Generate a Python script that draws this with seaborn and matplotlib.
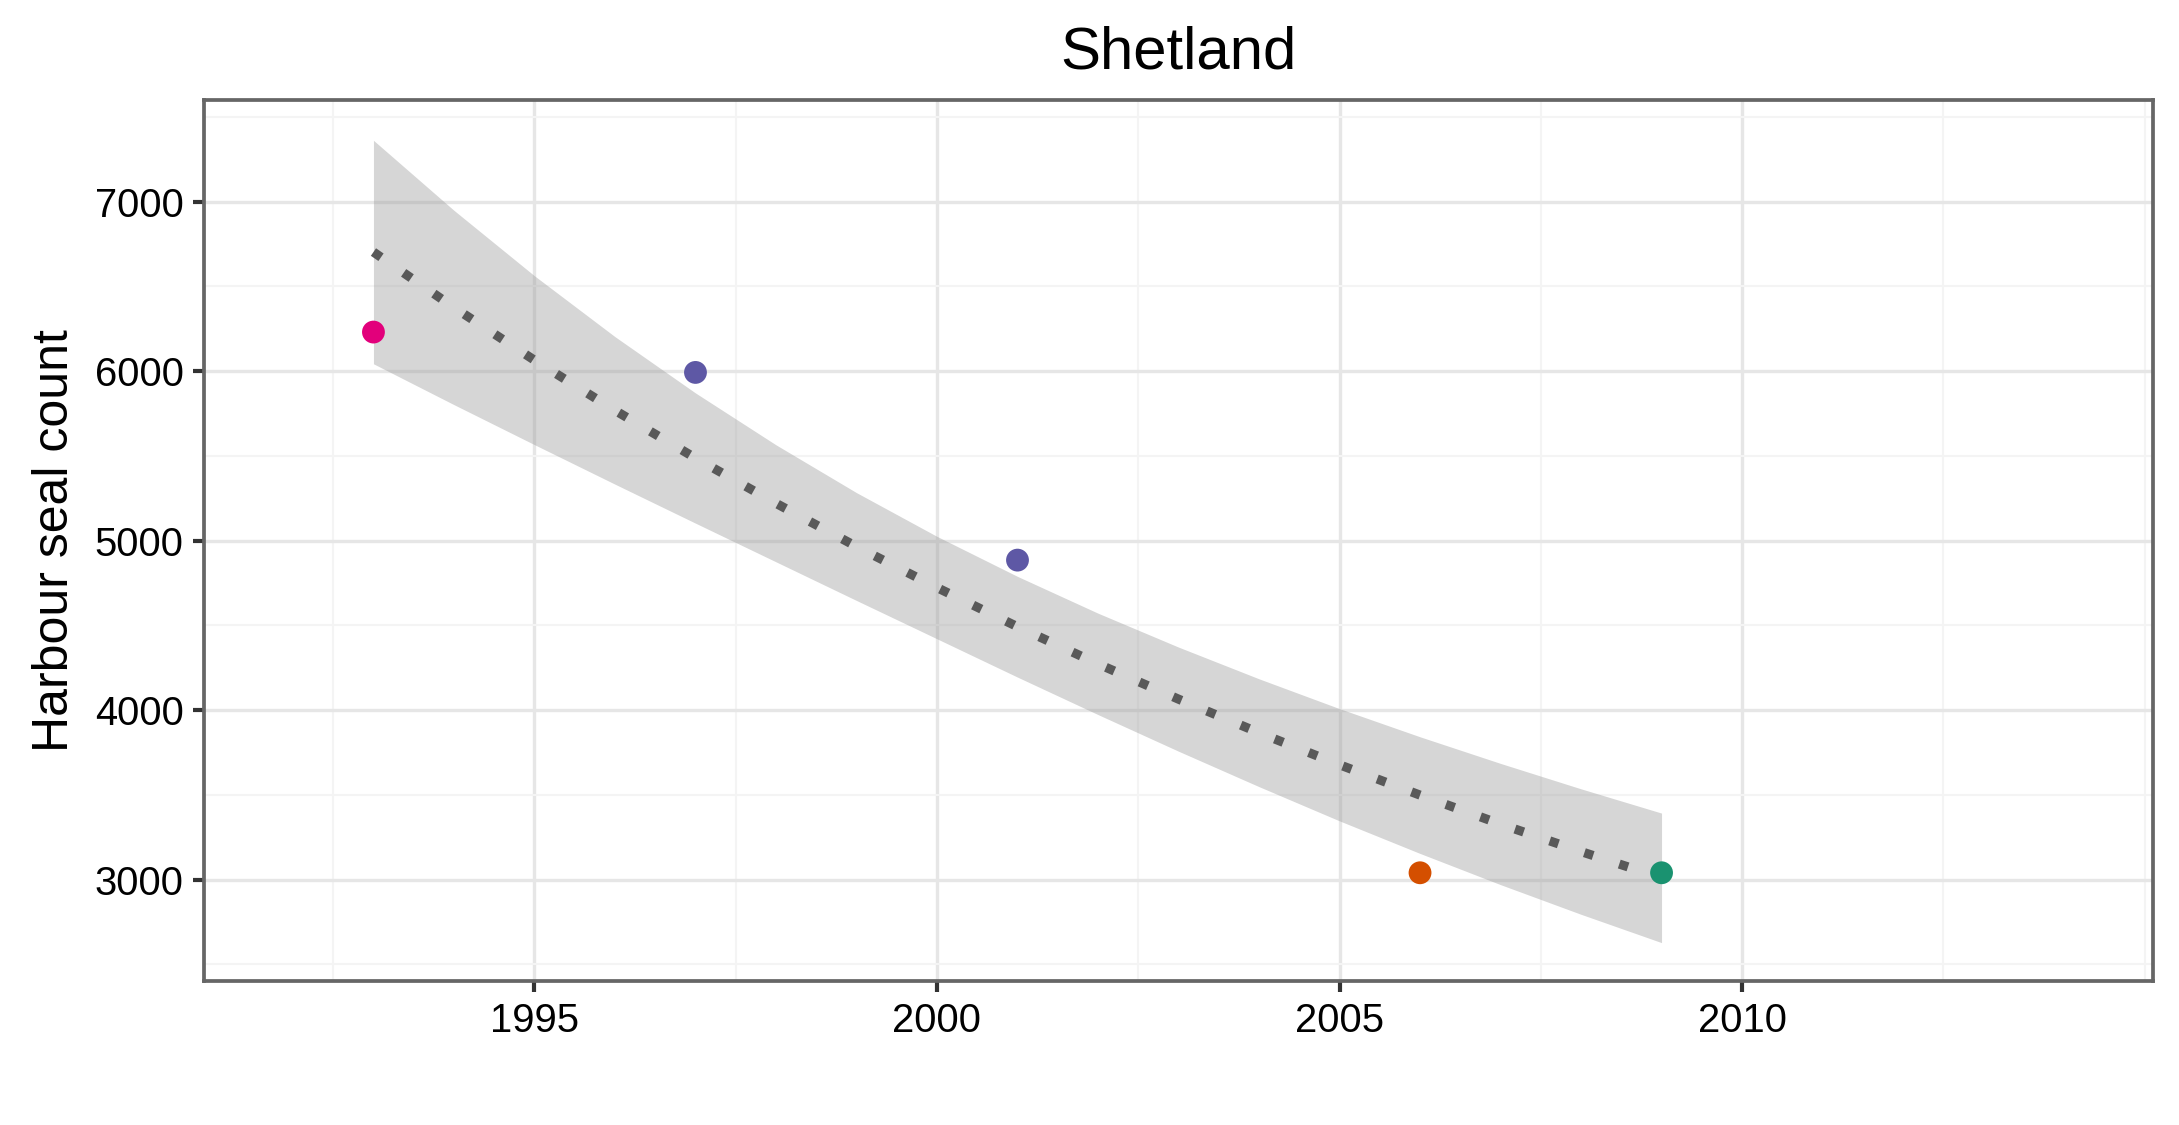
import matplotlib
matplotlib.use('Agg')
import matplotlib.pyplot as plt
import seaborn as sns
import pandas as pd
from matplotlib.ticker import MultipleLocator

# observed counts
survey_years = [1993, 1997, 2001, 2006, 2009]
seal_counts = [6230, 5992, 4885, 3041, 3041]
survey_group = ['A', 'B', 'B', 'C', 'D']
group_colours = {'A': '#E2007B', 'B': '#5E58A5', 'C': '#D44F00', 'D': '#1A9270'}

# fitted trend with its confidence band
fit_years = list(range(1993, 2010))
fit_count = [6702, 6375, 6064, 5768, 5487, 5220, 4965, 4723, 4492,
             4273, 4065, 3867, 3678, 3499, 3328, 3166, 3011]
fit_upper = [7361, 6948, 6562, 6203, 5871, 5565, 5283, 5025, 4789,
             4572, 4372, 4185, 4009, 3843, 3686, 3536, 3393]
fit_lower = [6043, 5802, 5566, 5333, 5103, 4875, 4647, 4421, 4195,
             3974, 3758, 3549, 3347, 3155, 2971, 2796, 2629]

x_ticks = [1995, 2000, 2005, 2010]
y_ticks = [3000, 4000, 5000, 6000, 7000]

obs = pd.DataFrame({'year': survey_years, 'count': seal_counts, 'group': survey_group})
fit = pd.DataFrame({'year': fit_years, 'fit': fit_count, 'lo': fit_lower, 'hi': fit_upper})

sns.set_theme(style='white')
plt.rcParams['font.family'] = ['Liberation Sans', 'DejaVu Sans']

fig = plt.figure(figsize=(2179 / 300, 1125 / 300), dpi=300)
ax = fig.add_axes([0.0938, 0.1279, 0.8941, 0.7831])

# grid (theme_bw look)
ax.set_axisbelow(True)
ax.xaxis.set_minor_locator(MultipleLocator(2.5))
ax.yaxis.set_minor_locator(MultipleLocator(500))
ax.grid(which='major', color='#E6E6E6', linewidth=0.8)
ax.grid(which='minor', color='#F4F4F4', linewidth=0.5)

# confidence band + trend
ax.fill_between(fit['year'], fit['lo'], fit['hi'], color='#999999', alpha=0.4,
                linewidth=0, zorder=2)
sns.lineplot(data=fit, x='year', y='fit', ax=ax, color='#595959',
             linewidth=2.2, linestyle=(0, (1, 3)), zorder=3)

# survey counts
sns.scatterplot(data=obs, x='year', y='count', hue='group', palette=group_colours,
                s=30, linewidth=0, legend=False, ax=ax, zorder=4)

ax.set_xlim(1990.9, 2015.1)
ax.set_ylim(2402, 7598)
ax.set_xticks(x_ticks)
ax.set_yticks(y_ticks)
ax.set_xticklabels([str(v) for v in x_ticks])
ax.set_yticklabels([str(v) for v in y_ticks])

ax.tick_params(which='major', length=2.75, width=1.0, color='#333333', pad=2.2,
               labelsize=9.6, labelcolor='black', bottom=True, left=True)
ax.tick_params(which='minor', length=0)

for s in ax.spines.values():
    s.set_color('#666666')
    s.set_linewidth(0.9)

ax.set_xlabel('')
ax.set_ylabel('Harbour seal count', fontsize=12, color='black', labelpad=4)
ax.set_title('Shetland', fontsize=14.4, color='black', pad=7.5)

fig.savefig('out.png', dpi=300)
plt.close(fig)
